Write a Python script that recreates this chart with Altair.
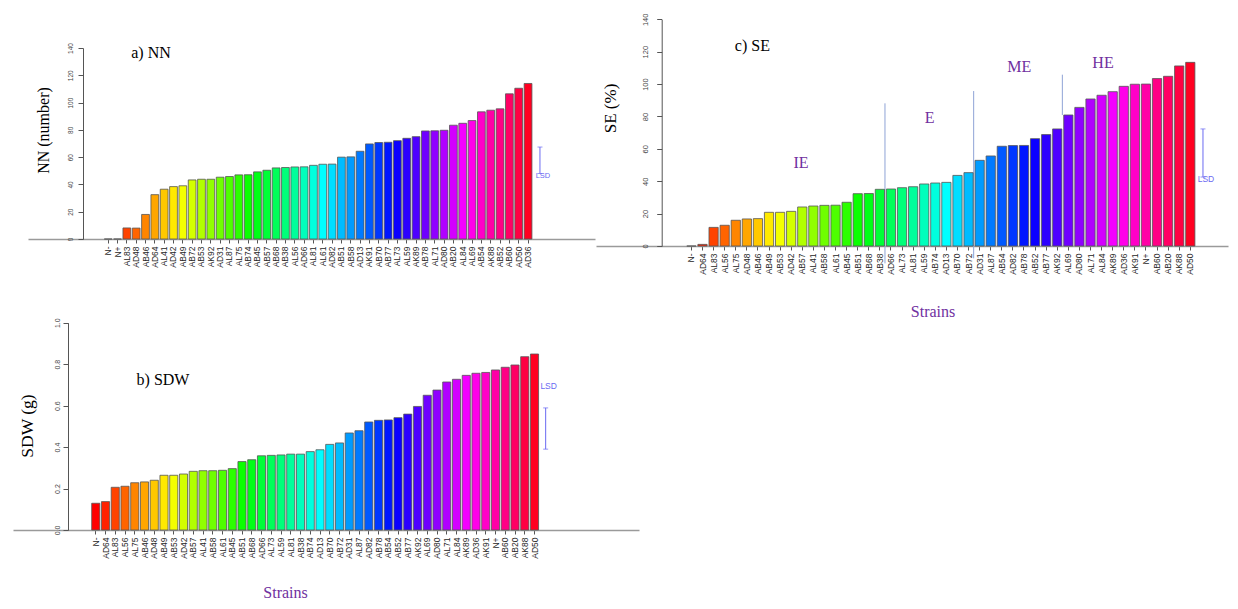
import colorsys
import math
import altair as alt
import pandas as pd

# ---------------- data ----------------
nn_strains = ["N-", "N+", "AL83", "AD48", "AB46", "AD64", "AL41", "AD42", "AB49", "AB72",
              "AB53", "AK92", "AD31", "AL87", "AL75", "AB74", "AB45", "AB57", "AB68", "AB38",
              "AL56", "AD66", "AL81", "AL61", "AD82", "AB51", "AB58", "AD13", "AK91", "AB70",
              "AB77", "AL73", "AL59", "AK89", "AB78", "AL71", "AD80", "AB20", "AL84", "AL69",
              "AB54", "AK88", "AB52", "AB60", "AD50", "AD36"]
nn_values = [0, 0, 8.1, 8.0, 18.0, 32.5, 36.5, 38.4, 39.0, 43.3,
             43.8, 43.8, 45.3, 45.8, 47.0, 47.1, 49.2, 50.4, 52.1, 52.4,
             52.8, 52.9, 54.0, 54.8, 54.9, 60.0, 60.2, 64.3, 69.7, 70.7,
             70.9, 72.1, 73.8, 75.0, 79.2, 79.3, 79.7, 83.4, 84.8, 86.8,
             93.2, 94.4, 95.4, 106.4, 110.5, 114.0]

se_strains = ["N-", "AD64", "AL83", "AL56", "AL75", "AD48", "AB46", "AB49", "AB53", "AD42",
              "AB57", "AL41", "AB58", "AL61", "AB45", "AB51", "AB68", "AB38", "AD66", "AL73",
              "AL81", "AL59", "AB74", "AD13", "AB70", "AB72", "AD31", "AL87", "AB54", "AD82",
              "AB78", "AB52", "AB77", "AK92", "AL69", "AD80", "AL71", "AL84", "AK89", "AD36",
              "AK91", "N+", "AB60", "AB20", "AK88", "AD50"]
se_values = [0, 1.0, 11.5, 12.8, 15.9, 16.7, 16.9, 20.8, 20.8, 21.4,
             24.1, 24.7, 25.1, 25.2, 27.0, 32.3, 32.4, 35.0, 35.2, 36.0,
             36.6, 38.3, 38.9, 39.3, 43.6, 45.3, 52.9, 55.6, 61.6, 62.0,
             62.1, 66.3, 68.8, 72.3, 80.9, 85.6, 90.8, 93.1, 95.3, 98.6,
             99.9, 100.0, 103.4, 104.8, 111.2, 113.4]

sdw_strains = ["N-", "AD64", "AL83", "AL56", "AL75", "AB46", "AD48", "AB49", "AB53", "AD42",
               "AB57", "AL41", "AB58", "AL61", "AB45", "AB51", "AB68", "AD66", "AL73", "AL59",
               "AL81", "AB38", "AB74", "AD13", "AB70", "AB72", "AD31", "AL87", "AD82", "AB78",
               "AB54", "AB52", "AB77", "AK92", "AL69", "AD80", "AL71", "AL84", "AK89", "AD36",
               "AK91", "N+", "AB60", "AB20", "AK88", "AD50"]
sdw_values = [0.129, 0.137, 0.206, 0.211, 0.228, 0.232, 0.240, 0.264, 0.264, 0.270,
              0.283, 0.286, 0.286, 0.288, 0.296, 0.330, 0.339, 0.358, 0.360, 0.362,
              0.366, 0.366, 0.378, 0.387, 0.413, 0.420, 0.468, 0.479, 0.521, 0.529,
              0.531, 0.542, 0.559, 0.596, 0.650, 0.675, 0.714, 0.727, 0.746, 0.756,
              0.760, 0.772, 0.785, 0.796, 0.836, 0.849]

nn_ticks = [0, 20, 40, 60, 80, 100, 120, 140]
se_ticks = [0, 20, 40, 60, 80, 100, 120, 140]
sdw_ticks = [0.0, 0.2, 0.4, 0.6, 0.8, 1.0]

# LSD bars (top, bottom, label position)
nn_lsd = [67.4, 48.0, 46.2]
se_lsd = [72.3, 42.6, 41.4]
sdw_lsd = [0.589, 0.390, 0.696]

# SE efficiency groups
se_group_names = ["IE", "E", "ME", "HE"]
se_group_anchor = ["AB57", "AL59", "AD82", "AL84"]
se_group_y = [51.1, 78.9, 110.7, 113.2]
se_div_anchor = ["AB38", "AB72", "AK92"]
se_div_low = [-10.7, -7.6, 80.9]
se_div_high = [88.1, 95.7, 105.8]

# ---------------- style ----------------
SANS = "Liberation Sans"
SERIF = "Liberation Serif"
PURPLE = "#7030A0"
LSDC = "#6a6af2"
DIVC = "#8fa3d6"
AXC = "#555555"
SLOT = "LSD "          # empty band slot to the right of the bars
PI = 0.167             # gap between bars (fraction of a step)
W, H = 1222, 522


def rainbow(n):
    out = []
    for i in range(n):
        r, g, b = colorsys.hsv_to_rgb(i / n, 1, 1)
        out.append("#%02x%02x%02x" % (round(r * 255), round(g * 255), round(b * 255)))
    return out


PAL = rainbow(46)


def band_layout(cats, r0, r1, first_start, step):
    """Pad the band domain with empty slots so that the bars sit where wanted
    while the axis line spans the whole [r0, r1] range."""
    span = r1 - r0
    off = first_start - r0
    k = int(math.floor(off / step))
    a = off - k * step
    nreal = len(cats)
    m = int(math.floor((span - a - step * (k + nreal - PI)) / step))
    n = k + nreal + m
    L = span - step * (n - PI)
    po = L / (2 * step)
    align = a / L if L > 0 else 0.5
    dom = ["_l%d" % i for i in range(k)] + cats + ["_r%d" % i for i in range(m)]
    return alt.Scale(domain=dom, range=[r0, r1], paddingInner=PI, paddingOuter=po,
                     align=align, round=False)


def panel(strains, values, xrange, first_start, step, yrange, ydomain, yticks, yfmt,
          xoff, yoff, ylfs, ylpad, ytitle, ytfs, ytx, yty,
          xtitle=None, xtx=0, xty=0, xlfs=8.5, lsd=None, lsd_dx=0.0, lsd_fs=8,
          lsd_text_dy=0.0, tag=None, tag_anchor=None, tag_y=0, tag_dx=0):
    df = pd.DataFrame({"strain": strains, "value": values, "col": PAL[:len(strains)]})
    xs = band_layout(strains + [SLOT], xrange[0], xrange[1], first_start, step)
    ys = alt.Scale(domain=ydomain, range=yrange, nice=False, zero=False)
    xaxis_kw = dict(orient="bottom", offset=xoff, values=strains, labelAngle=270,
                    labelAlign="right", labelBaseline="middle", labelFont=SANS,
                    labelFontSize=xlfs, labelColor="#262626", labelPadding=3,
                    labelOverlap=False, tickSize=4, tickColor=AXC, domainColor="#9a9a9a",
                    domainWidth=1.6, grid=False)
    if xtitle:
        xaxis_kw.update(title=xtitle, titleFont=SERIF, titleFontSize=16,
                        titleFontWeight="normal", titleColor=PURPLE, titleX=xtx,
                        titleY=xty, titleAlign="center", titleBaseline="bottom")
    else:
        xaxis_kw.update(title=None)
    xaxis = alt.Axis(**xaxis_kw)
    yaxis = alt.Axis(orient="left", offset=yoff, values=yticks, format=yfmt,
                     labelAngle=270, labelAlign="center", labelBaseline="bottom",
                     labelFont=SANS, labelFontSize=ylfs, labelColor="#444444",
                     labelPadding=ylpad, tickSize=5, tickColor=AXC, domainColor=AXC,
                     domainWidth=1, grid=False, title=ytitle, titleFont=SERIF,
                     titleFontSize=ytfs, titleFontWeight="normal", titleColor="black",
                     titleAngle=270, titleX=ytx, titleY=yty, titleAlign="center",
                     titleBaseline="middle")

    def X(field):
        return alt.X(field, scale=xs, axis=xaxis)

    def Y(field):
        return alt.Y(field, scale=ys, axis=yaxis)

    bars = alt.Chart(df).mark_bar(stroke="#555555", strokeWidth=0.8).encode(
        x=X("strain:N"), y=Y("value:Q"), color=alt.Color("col:N", scale=None))
    layers = [bars]
    if lsd is not None:
        ldf = pd.DataFrame({"strain": [SLOT], "top": [lsd[0]], "bot": [lsd[1]],
                            "ty": [lsd[2]], "t": ["LSD"]})
        layers.append(alt.Chart(ldf).mark_rule(color=LSDC, strokeWidth=1, xOffset=lsd_dx).encode(
            x=X("strain:N"), y=Y("top:Q"), y2="bot:Q"))
        layers.append(alt.Chart(ldf).mark_tick(color=LSDC, thickness=1, size=5, xOffset=lsd_dx).encode(
            x=X("strain:N"), y=Y("top:Q")))
        layers.append(alt.Chart(ldf).mark_tick(color=LSDC, thickness=1, size=5, xOffset=lsd_dx).encode(
            x=X("strain:N"), y=Y("bot:Q")))
        layers.append(alt.Chart(ldf).mark_text(color=LSDC, font=SANS, fontSize=lsd_fs,
                                               dx=lsd_dx + lsd_text_dy, align="center",
                                               baseline="middle").encode(
            x=X("strain:N"), y=Y("ty:Q"), text="t:N"))
    if tag:
        tdf = pd.DataFrame({"strain": [tag_anchor], "y": [tag_y], "t": [tag]})
        layers.append(alt.Chart(tdf).mark_text(font=SERIF, fontSize=16, color="black",
                                               dx=tag_dx, align="center",
                                               baseline="middle").encode(
            x=X("strain:N"), y=Y("y:Q"), text="t:N"))
    return layers, X, Y


# ---------------- a) NN ----------------
nn_layers, _, _ = panel(
    nn_strains, nn_values, xrange=[20, 587], first_start=96.3, step=9.33,
    yrange=[231, 40], ydomain=[0, 140], yticks=nn_ticks, yfmt="d",
    xoff=231 - H, yoff=-75, ylfs=6.5, ylpad=5, ytitle="NN (number)", ytfs=16,
    ytx=-40, yty=122, xlfs=8.5, lsd=nn_lsd, lsd_dx=2.6, lsd_fs=7.5, lsd_text_dy=3,
    tag="a) NN", tag_anchor="AB46", tag_y=136.4, tag_dx=5.5)
nn = alt.layer(*nn_layers)

# ---------------- c) SE ----------------
se_layers, SX, SY = panel(
    se_strains, se_values, xrange=[588, 1220], first_start=678.8, step=11.086,
    yrange=[238, 11.3], ydomain=[0, 140], yticks=se_ticks, yfmt="d",
    xoff=238 - H, yoff=-653.7, ylfs=7.5, ylpad=7, ytitle="SE (%)", ytfs=17,
    ytx=-51.7, yty=100, xtitle="Strains", xtx=924.5, xty=73, xlfs=8.5,
    lsd=se_lsd, lsd_dx=1.6, lsd_fs=8.5, lsd_text_dy=3,
    tag="c) SE", tag_anchor="AD48", tag_y=123.5, tag_dx=5.5)

div_df = pd.DataFrame({"strain": se_div_anchor, "lo": se_div_low, "hi": se_div_high})
dividers = alt.Chart(div_df).mark_rule(color=DIVC, strokeWidth=1, xOffset=5.1).encode(
    x=SX("strain:N"), y=SY("lo:Q"), y2="hi:Q")

group_marks = []
for name, anc, yv, dx in zip(se_group_names, se_group_anchor, se_group_y, [-1.3, 5.5, 6.3, 1.4]):
    gdf = pd.DataFrame({"strain": [anc], "y": [yv], "t": [name]})
    group_marks.append(alt.Chart(gdf).mark_text(font=SERIF, fontSize=16, color=PURPLE,
                                                dx=dx, align="center", baseline="middle").encode(
        x=SX("strain:N"), y=SY("y:Q"), text="t:N"))

se = alt.layer(dividers, *se_layers, *group_marks)

# ---------------- b) SDW ----------------
sdw_layers, _, _ = panel(
    sdw_strains, sdw_values, xrange=[5, 631], first_start=83.7, step=9.75,
    yrange=[522, 314.7], ydomain=[0, 1], yticks=sdw_ticks, yfmt=".1f",
    xoff=0, yoff=-60, ylfs=7, ylpad=3, ytitle="SDW (g)", ytfs=17.5,
    ytx=-40.5, yty=417.5, xtitle="Strains", xtx=277, xty=70, xlfs=8.5,
    lsd=sdw_lsd, lsd_dx=1.4, lsd_fs=8.5, lsd_text_dy=3,
    tag="b) SDW", tag_anchor="AB49", tag_y=0.7236, tag_dx=-1)
sdw = alt.layer(*sdw_layers)

chart = (
    alt.layer(nn, se, sdw)
    .resolve_scale(x="independent", y="independent")
    .properties(width=W, height=H, padding=0, background="white")
    .configure_view(stroke=None)
)

chart.save("out.html", embed_options={"renderer": "svg", "actions": False})
